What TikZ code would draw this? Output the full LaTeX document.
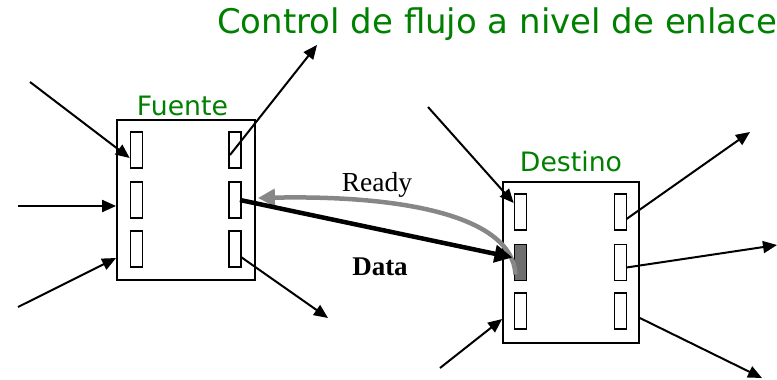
\documentclass[tikz,border=0pt]{standalone}
\usepackage{fontspec}
\setmainfont{Liberation Serif}
\newfontfamily\greenfont{DejaVu Sans}
\usetikzlibrary{arrows.meta}
\definecolor{grn}{RGB}{0,128,0}
\definecolor{readygray}{RGB}{135,135,135}
\definecolor{portfill}{RGB}{110,110,110}
\begin{document}
\begin{tikzpicture}[x=1pt,y=-1pt,
  box/.style={draw,line width=1.8pt,minimum width=#1,inner sep=0pt},
  port/.style={draw,line width=1.6pt,minimum width=12pt,minimum height=36pt,inner sep=0pt,fill=white},
  thinarrow/.style={line width=2pt,-{Triangle[length=14pt,width=12pt]}},
  thickarrow/.style={line width=4.5pt,-{Triangle[length=18pt,width=17pt]}},
  readyarrow/.style={readygray,line width=4.5pt,-{Triangle[length=17pt,width=17pt]}},
  greentext/.style={text=grn,inner sep=0pt,anchor=base,font=\greenfont},
  label/.style={inner sep=0pt,anchor=base}]
\useasboundingbox (0,0) rectangle (777,380);

% Fuente
\node[box=138pt,minimum height=160pt] (fuente) at (186,200) {};
\node[port] (fl1) at (136.5,150) {};
\node[port] (fl2) at (136.5,200) {};
\node[port] (fl3) at (136.5,249) {};
\node[port] (fr1) at (235,150) {};
\node[port] (fr2) at (235,200) {};
\node[port] (fr3) at (235,249) {};
\node[greentext] (tf) at (182.5,115) {\resizebox{91pt}{!}{Fuente}};

% Destino
\node[box=136pt,minimum height=161pt] (destino) at (571,262.5) {};
\node[port] (dl1) at (520.5,212) {};
\node[port,fill=portfill] (dl2) at (520.5,262.5) {};
\node[port] (dl3) at (520.5,311) {};
\node[port] (dr1) at (620.5,212) {};
\node[port] (dr2) at (620.5,262.5) {};
\node[port] (dr3) at (620.5,311) {};
\node[greentext] (td) at (571,171) {\resizebox{102pt}{!}{Destino}};

% Title
\node[greentext,anchor=base west] (title) at (217,33) {\resizebox{560pt}{!}{Control de flujo a nivel de enlace}};

% free ends
\coordinate (a1) at (30,82);
\coordinate (a2) at (18,206);
\coordinate (a3) at (18,307);
\coordinate (a4) at (317,45);
\coordinate (a5) at (328,318);
\coordinate (b1) at (428,107);
\coordinate (b2) at (440,368);
\coordinate (b3) at (750,132);
\coordinate (b4) at (777,245);
\coordinate (b5) at (762,378);

% Fuente arrows
\draw[thinarrow] (a1) -- ([yshift=-8pt]fl1.west);
\draw[thinarrow] (a2) -- (fuente.west |- 0,206);
\draw[thinarrow] (a3) -- (fuente.west |- 0,258);
\draw[thinarrow] ([shift={(-5pt,-5pt)}]fr1.center) -- (a4);
\draw[thinarrow] ([shift={(6pt,-8pt)}]fr3.center) -- (a5);

% Destino arrows
\draw[thinarrow] (b1) -- ([yshift=9pt]dl1.west);
\draw[thinarrow] (b2) -- (destino.west |- 0,319);
\draw[thinarrow] ([shift={(6pt,-7pt)}]dr1.center) -- (b3);
\draw[thinarrow] ([shift={(6pt,-5pt)}]dr2.center) -- (b4);
\draw[thinarrow] (destino.east |- 0,318) -- (b5);

% Data / Ready
\draw[readyarrow] ([shift={(-5pt,-12pt)}]dl2.center) .. controls (512,215) and (400,195) .. ([xshift=2pt]fuente.east |- 0,198);
\draw[thickarrow] ([xshift=5pt]fr2.center) -- ([shift={(-8pt,5pt)}]dl2.center);
\node[label] (ready) at (377,191) {\fontsize{27.5}{32}\selectfont Ready};
\node[label] (data) at (380,275) {\fontsize{27}{32}\selectfont\bfseries Data};
\end{tikzpicture}
\end{document}
